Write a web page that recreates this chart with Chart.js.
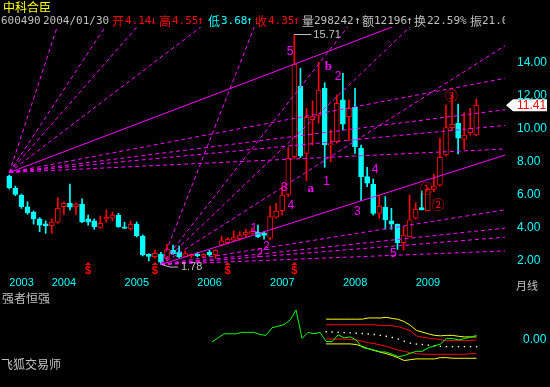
<!DOCTYPE html>
<html><head><meta charset="utf-8">
<script src="https://cdn.jsdelivr.net/npm/chart.js@4.4.0/dist/chart.umd.min.js"></script>
<style>
html,body{margin:0;padding:0;background:#000;overflow:hidden;width:550px;height:387px;}
#wrap{position:relative;width:550px;height:387px;background:#000;}
canvas{position:absolute;left:0;}
.t{position:absolute;white-space:nowrap;font-family:"DejaVu Sans Mono",monospace;font-size:11px;line-height:13px;}
.c{position:absolute;white-space:nowrap;font-family:"Noto Sans CJK SC",sans-serif;font-size:12px;line-height:13px;}
.g{color:#c0c0c0}.r{color:#ff0000}.cy{color:#00ffff}
#hdr{position:absolute;left:0;top:0;width:505px;height:30px;overflow:hidden;}
</style></head><body>
<div id="wrap">
<canvas id="main" width="550" height="292" style="top:0;width:550px;height:292px"></canvas>
<canvas id="ind" width="550" height="95" style="top:292px;width:550px;height:95px"></canvas>
<div id="hdr">
 <span class="c" style="left:3px;top:0px;color:#ffff00">中科合臣</span>
 <span class="t g" style="left:1px;top:14px">600490</span>
 <span class="t g" style="left:43px;top:14px">2004/01/30</span>
 <span class="c r" style="left:112px;top:14px">开</span><span class="t r" style="left:125px;top:14px">4.14</span><span class="t r" style="left:150px;top:14px">↓</span>
 <span class="c r" style="left:159px;top:14px">高</span><span class="t r" style="left:172px;top:14px">4.55</span><span class="t r" style="left:197px;top:14px">↑</span>
 <span class="c cy" style="left:208px;top:14px">低</span><span class="t cy" style="left:221px;top:14px">3.68</span><span class="t cy" style="left:246px;top:14px">↑</span>
 <span class="c r" style="left:255px;top:14px">收</span><span class="t r" style="left:268px;top:14px">4.35</span><span class="t r" style="left:293px;top:14px">↑</span>
 <span class="c g" style="left:302px;top:14px">量</span><span class="t g" style="left:314px;top:14px">298242</span><span class="t g" style="left:354px;top:14px">↑</span>
 <span class="c g" style="left:362px;top:14px">额</span><span class="t g" style="left:374px;top:14px">12196</span><span class="t g" style="left:406px;top:14px">↑</span>
 <span class="c g" style="left:414px;top:14px">换</span><span class="t g" style="left:427px;top:14px">22.59%</span>
 <span class="c g" style="left:470px;top:14px">振</span><span class="t g" style="left:482px;top:14px">21.04</span>
</div>
<span class="c g" style="left:516px;top:279px;font-size:11px">月线</span>
<span class="c g" style="left:2px;top:291px">强者恒强</span>
<span class="c g" style="left:1px;top:357px">飞狐交易师</span>
</div>
<script>
// ---- monthly candles, Jun 2003 .. Nov 2009 ----
const open  = [7.14,6.39,5.99,5.28,4.96,4.54,4.25,4.14,4.34,5.28,5.49,5.28,5.44,4.54,4.43,4.03,4.52,4.58,4.78,4.07,
               3.93,4.23,3.51,2.40,2.26,2.42,2.16,2.64,2.52,2.28,2.32,2.42,2.28,2.52,2.36,2.96,3.10,3.25,3.33,3.57,
               3.67,3.73,3.70,3.37,4.64,5.04,6.03,8.31,12.58,8.51,10.55,10.77,12.44,9.00,9.21,11.74,10.73,11.29,8.81,7.10,
               6.64,4.88,5.25,4.42,4.23,3.10,3.47,4.58,5.22,5.04,6.33,6.59,8.41,10.06,10.33,9.36,9.76,9.62];
const high  = [7.20,6.53,6.05,5.58,5.02,4.62,4.42,4.55,5.83,5.58,6.65,5.52,5.75,4.78,4.54,4.72,5.08,4.96,4.88,4.34,
               4.42,4.36,3.57,2.44,2.66,2.52,3.01,2.96,2.90,2.60,2.44,2.52,2.44,2.64,2.68,3.51,3.41,3.81,3.77,3.91,
               4.01,4.17,3.77,5.31,5.49,6.59,8.85,15.71,13.65,11.23,11.68,14.02,12.78,9.92,12.04,13.35,11.74,12.44,9.01,7.66,
               6.96,5.95,5.89,5.18,4.23,4.07,5.99,5.52,6.23,6.43,7.24,9.42,11.43,12.04,11.49,10.97,11.23,11.80];
const low   = [6.35,5.95,5.18,4.82,4.23,3.77,3.67,3.68,4.28,4.82,5.08,4.82,4.31,4.17,3.91,3.97,4.34,4.43,4.03,3.97,
               3.87,3.45,2.30,2.00,2.16,1.78,2.00,2.40,2.20,2.26,2.20,2.24,2.20,2.28,2.16,2.90,3.02,3.16,3.25,3.47,
               3.63,3.41,3.31,3.27,4.58,4.78,5.89,8.20,8.25,6.85,9.01,10.33,7.66,8.00,9.12,9.92,9.27,8.51,5.64,6.49,
               4.78,4.58,3.91,3.91,2.70,2.66,3.47,4.52,5.08,5.04,6.19,6.53,8.35,9.92,8.47,8.75,9.62,9.56];
const close = [6.43,6.03,5.28,4.92,4.54,4.17,4.13,4.35,5.18,5.49,5.25,5.44,4.37,4.34,4.07,4.28,4.64,4.78,4.07,3.97,
               4.23,3.51,2.36,2.28,2.46,1.92,2.72,2.44,2.24,2.44,2.40,2.32,2.40,2.36,2.64,3.22,3.31,3.41,3.57,3.73,
               3.81,3.47,3.55,4.68,5.02,5.99,8.21,13.91,8.35,10.69,10.75,12.34,9.01,9.10,11.54,10.28,11.23,8.91,7.10,6.70,
               4.88,5.32,4.48,4.23,3.10,3.57,4.48,5.12,5.08,6.33,6.53,8.27,10.06,10.27,9.42,9.62,10.02,11.41];

const yearTickIdx = [0, 7, 19, 31, 43, 55, 67];
const yearLabels  = ['2003','2004','2005','2006','2007','2008','2009'];
const priceTicks  = [2, 4, 6, 8, 10, 12, 14];

// Gann fans: origin bar, origin price, price per bar of the 1x1 line
const fanOriginBar   = [0, 25];
const fanOriginPrice = [7.35, 1.78];
const fanUnit        = [0.1394, 0.1167];
const fanRatios      = [8, 4, 3, 2, 1, 1/2, 1/3, 1/4, 1/8];

// wave-count annotations (bar position, price level)
const waveText  = ['5','b','2','a','1','3','4','3','4','5','1','2','2'];
const waveBar   = [46.3,52.6,54.2,49.7,52.3,45.3,46.4,57.4,60.3,63.3,40.3,42.4,41.3];
const waveLevel = [14.66,13.75,13.15,6.39,6.78,6.44,5.35,4.98,7.53,2.46,3.93,2.86,2.46];
const circText  = ['①','②','③'];
const circBar   = [68.8, 70.7, 72.9];
const circLevel = [6.39, 5.44, 12.04];
const signalBars = [13, 24, 36, 47];

// ---- indicator pane 强者恒强 ----
const strengthStart = 33;
const strength = [-0.23,0.20,0.67,0.67,0.67,0.83,0.83,0.83,0.60,0.50,1.33,1.50,1.67,2.17,3.27,0.17,0.83,0.67,0.83,
                  -0.17,-0.17,0.57,0.23,0.33,0.00,-0.83,-0.95,-1.10,-1.30,-1.33,-1.55,-1.83,-1.70,-1.45,-1.25,-1.23,
                  -0.85,-0.65,-0.45,0.17,0.17,0.00,0.15,0.30,0.50];
const bandStart = 52;
const upperYellow = [2.27,2.27,2.27,2.27,2.27,2.27,2.27,2.40,2.40,2.40,2.47,2.35,2.25,2.00,1.60,1.05,0.85,0.67,0.50,0.45,0.50,0.50,0.40,0.33,0.33,0.33];
const upperRed    = [1.67,1.67,1.67,1.67,1.67,1.67,1.67,1.67,1.67,1.57,1.57,1.55,1.45,1.25,1.00,0.45,0.30,0.20,0.13,0.05,-0.07,-0.07,-0.07,-0.07,-0.05,0.00];
const middle      = [0.90,0.87,0.83,0.80,0.77,0.73,0.70,0.65,0.60,0.50,0.40,0.27,0.10,-0.15,-0.35,-0.45,-0.50,-0.57,-0.63,-0.70,-0.73,-0.73,-0.73,-0.73,-0.73,-0.73];
const lowerRed    = [0.10,0.10,0.10,0.10,0.05,0.00,-0.15,-0.30,-0.40,-0.55,-0.70,-0.90,-1.10,-1.25,-1.40,-1.50,-1.55,-1.57,-1.57,-1.57,-1.57,-1.57,-1.57,-1.57,-1.50,-1.50];
const lowerYellow = [-0.43,-0.43,-0.43,-0.43,-0.43,-0.50,-0.70,-0.95,-1.15,-1.33,-1.50,-1.70,-1.95,-2.25,-2.15,-2.07,-2.07,-2.07,-2.07,-1.93,-1.93,-2.00,-2.00,-2.00,-2.00,-2.00];

// ---- styling / layout ----
const RED = '#ff0000', CYAN = '#00ffff', MAG = '#ff00ff', GRAY = '#c0c0c0';
const X_MIN = -1.533, X_MAX = 81.73;
const Y_MIN = 1.21, Y_MAX = 16.15;
const isUp = i => close[i] >= open[i];

const wickData = open.map((_, i) => ({x: i, y: [low[i], high[i]]}));
const bodyData = open.map((_, i) => ({x: i, y: [open[i], close[i]]}));

const fanSets = [];
fanOriginBar.forEach((ob, k) => {
  fanRatios.forEach(r => {
    fanSets.push({
      type: 'line', order: 0,
      data: [{x: ob, y: fanOriginPrice[k]}, {x: X_MAX, y: fanOriginPrice[k] + r * fanUnit[k] * (X_MAX - ob)}],
      borderColor: MAG, borderWidth: 1, borderDash: r === 1 ? [] : [4, 3],
      pointRadius: 0, fill: false
    });
  });
});

const annot = {
  id: 'annot',
  afterDraw(chart) {
    const {ctx, scales: {x, y}, chartArea} = chart;
    ctx.save();
    ctx.textAlign = 'center'; ctx.textBaseline = 'middle';
    waveText.forEach((t, k) => {
      ctx.fillStyle = MAG;
      ctx.font = (t === 'a' || t === 'b') ? 'bold 13px "Liberation Serif"' : '12px "Liberation Sans"';
      ctx.fillText(t, x.getPixelForValue(waveBar[k]), y.getPixelForValue(waveLevel[k]));
    });
    circText.forEach((t, k) => {
      ctx.fillStyle = RED; ctx.font = '13px "Noto Sans CJK SC"';
      ctx.fillText(t, x.getPixelForValue(circBar[k]), y.getPixelForValue(circLevel[k]));
    });
    // signal marks
    signalBars.forEach(b => {
      const px = x.getPixelForValue(b), py = chartArea.bottom - 3;
      ctx.fillStyle = RED;
      ctx.beginPath(); ctx.moveTo(px, py - 9); ctx.lineTo(px - 3, py - 6); ctx.lineTo(px + 3, py - 6); ctx.closePath(); ctx.fill();
      ctx.font = 'bold 11px "Liberation Sans"';
      ctx.fillText('$', px, py);
    });
    // max / min labels
    let hi = 0, lo = 0;
    high.forEach((v, i) => { if (v > high[hi]) hi = i; });
    low.forEach((v, i) => { if (v < low[lo]) lo = i; });
    ctx.strokeStyle = GRAY; ctx.fillStyle = GRAY; ctx.lineWidth = 1;
    ctx.font = '11px "Liberation Sans"'; ctx.textAlign = 'left';
    let hx = x.getPixelForValue(hi), hy = Math.round(y.getPixelForValue(high[hi])) + 0.5;
    ctx.beginPath(); ctx.moveTo(hx, hy); ctx.lineTo(hx + 17, hy); ctx.stroke();
    ctx.fillText(high[hi].toFixed(2), hx + 19, hy);
    let lx = x.getPixelForValue(lo), ly = y.getPixelForValue(low[lo]);
    ctx.beginPath(); ctx.moveTo(lx + 1, ly); ctx.lineTo(lx + 9, ly + 2.5); ctx.lineTo(lx + 17, ly + 2.5); ctx.stroke();
    ctx.fillText(low[lo].toFixed(2), lx + 20, ly + 2.5);
    // last price marker
    const last = close[close.length - 1];
    const yl = y.getPixelForValue(last), r0 = chartArea.right;
    ctx.fillStyle = '#ffffff';
    ctx.beginPath(); ctx.moveTo(r0 + 1, yl); ctx.lineTo(r0 + 8, yl - 6); ctx.lineTo(r0 + 42, yl - 6);
    ctx.lineTo(r0 + 42, yl + 6); ctx.lineTo(r0 + 8, yl + 6); ctx.closePath(); ctx.fill();
    ctx.fillStyle = RED; ctx.font = '12px "Liberation Sans"';
    ctx.fillText(last.toFixed(2), r0 + 12, yl + 0.5);
    ctx.restore();
  }
};

const zeroPad = s => { s.paddingTop = 0; s.paddingBottom = 0; s.paddingLeft = 0; s.paddingRight = 0; };

new Chart(document.getElementById('main'), {
  type: 'bar',
  data: {
    datasets: [
      ...fanSets,
      { type: 'bar', order: 2, data: bodyData, grouped: false, barThickness: 5, minBarLength: 1,
        borderSkipped: false, borderWidth: 1,
        backgroundColor: c => isUp(c.dataIndex) ? '#000000' : CYAN,
        borderColor: c => isUp(c.dataIndex) ? RED : CYAN },
      { type: 'bar', order: 3, data: wickData, grouped: false, barThickness: 1, borderWidth: 0,
        backgroundColor: c => isUp(c.dataIndex) ? RED : CYAN }
    ]
  },
  options: {
    responsive: false, maintainAspectRatio: false, animation: false, events: [], devicePixelRatio: 1,
    layout: { padding: { top: 27, left: 0, right: 0, bottom: 0 } },
    plugins: { legend: { display: false }, tooltip: { enabled: false } },
    scales: {
      x: { type: 'linear', min: X_MIN, max: X_MAX, offset: false,
           grid: { display: false, drawTicks: false }, border: { display: false },
           afterBuildTicks: s => { s.ticks = yearTickIdx.map(v => ({ value: v })); },
           afterFit: s => { s.height = 18; zeroPad(s); },
           ticks: { autoSkip: false, maxRotation: 0, align: 'start', padding: 2, color: CYAN,
                    font: { family: 'Liberation Sans', size: 11 },
                    callback: v => yearLabels[yearTickIdx.indexOf(v)] } },
      y: { position: 'right', min: Y_MIN, max: Y_MAX,
           grid: { display: false, drawTicks: false }, border: { display: false },
           afterBuildTicks: s => { s.ticks = priceTicks.map(v => ({ value: v })); },
           afterFit: s => { s.width = 45; zeroPad(s); },
           ticks: { padding: 12, color: CYAN, font: { family: 'Liberation Sans', size: 12 },
                    callback: v => Number(v).toFixed(2) } }
    }
  },
  plugins: [annot]
});

const seq = (arr, start) => arr.map((v, k) => ({ x: start + k, y: v }));
const lineDs = (arr, start, color, order) => ({ type: 'line', data: seq(arr, start), borderColor: color,
  borderWidth: 1, pointRadius: 0, fill: false, order: order });

new Chart(document.getElementById('ind'), {
  type: 'line',
  data: {
    datasets: [
      lineDs(strength, strengthStart, '#00ff00', 0),
      lineDs(upperYellow, bandStart, '#ffff00', 1),
      lineDs(upperRed, bandStart, RED, 1),
      { type: 'line', data: seq(middle, bandStart), showLine: false, pointRadius: 1, pointStyle: 'rect',
        backgroundColor: '#ffffa0', borderWidth: 0, order: 1 },
      lineDs(lowerRed, bandStart, RED, 1),
      lineDs(lowerYellow, bandStart, '#ffff00', 1)
    ]
  },
  options: {
    responsive: false, maintainAspectRatio: false, animation: false, events: [], devicePixelRatio: 1,
    layout: { padding: 0 },
    plugins: { legend: { display: false }, tooltip: { enabled: false } },
    scales: {
      x: { type: 'linear', min: X_MIN, max: X_MAX, display: false, offset: false },
      y: { position: 'right', min: -4.7, max: 4.8,
           grid: { display: false, drawTicks: false }, border: { display: false },
           afterBuildTicks: s => { s.ticks = [{ value: 0 }]; },
           afterFit: s => { s.width = 45; zeroPad(s); },
           ticks: { padding: 18, color: CYAN, font: { family: 'Liberation Sans', size: 12 },
                    callback: v => Number(v).toFixed(2) } }
    }
  }
});
</script>
</body></html>
